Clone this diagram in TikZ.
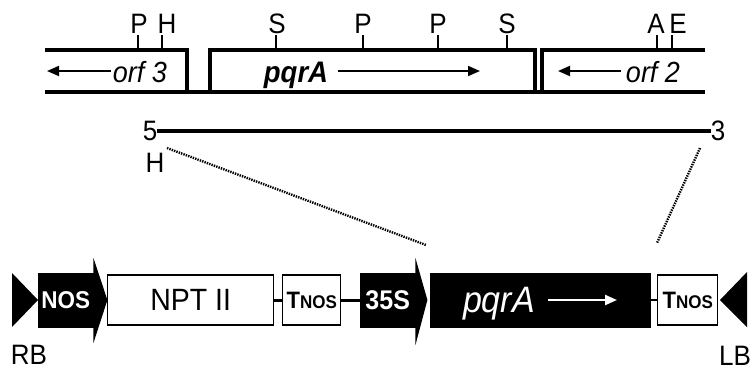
\documentclass[tikz,border=0pt]{standalone}
\usepackage{graphicx}
\usepackage{fontspec}
\setmainfont{Liberation Sans}
\usetikzlibrary{arrows.meta,calc}
\newcommand{\setsz}[1]{\fontsize{#1}{#1}\selectfont}
\newcommand{\tall}[1]{\scalebox{1}[1.08]{#1}}
\newcommand{\tnos}{\tall{\bfseries\setsz{22}T\setsz{17}NOS}}

\begin{document}
\begin{tikzpicture}[x=1pt, y=-1pt, every node/.style={inner sep=0pt},
  map/.style={line width=3.4pt},
  site/.style={line width=1.5pt},
  lbl/.style={font=\setsz{26}},
  orfarr/.style={line width=1.8pt, -{Triangle[length=12pt,width=10pt]}},
  blk/.style={draw, fill=black, text=white, anchor=west, minimum height=54, font=\setsz{22.5}\bfseries},
  wbx/.style={draw, fill=white, line width=1.4pt, anchor=west, minimum height=50},
  link/.style={line width=3pt},
  cut/.style={line width=2.4pt, dash pattern=on 1.4pt off 1.1pt}]
\useasboundingbox (0,0) rectangle (756,373);
% Genomic map
\draw[map] (45,92) -- (705,92);
\draw[map] (45,50) -- (187,50) -- (187,92);
\draw[map] (210,92) -- (210,50) -- (535,50) -- (535,92);
\draw[map] (542,92) -- (542,50) -- (705,50);
% Restriction sites
\foreach \x/\lx/\l [count=\i] in {138/139/P, 162/167/H, 276/277/S, 363/363/P, 438/438/P, 507/507/S, 657/656/A, 672/678/E} {
  \node[lbl] (site\i) at (\lx,24) {\tall{\l}};
  \draw[site] (\x,50) -- (\x,35);
}
% ORFs
\node[font=\setsz{27}\itshape, anchor=base] (orf3) at (140,82) {\tall{orf 3}};
\coordinate (orf3foot) at (111,71);
\coordinate (orf3tip) at (47,71);
\draw[orfarr] (orf3foot) -- (orf3tip);
\node[font=\setsz{27.5}\bfseries\itshape, anchor=base] (pqrtop) at (296,82) {\tall{pqrA}};
\coordinate (pqrfoot) at (338,71);
\coordinate (pqrtip) at (480,71);
\draw[orfarr] (pqrfoot) -- (pqrtip);
\node[font=\setsz{27}\itshape, anchor=base] (orf2) at (653,82) {\tall{orf 2}};
\coordinate (orf2foot) at (621,71);
\coordinate (orf2tip) at (558,71);
\draw[orfarr] (orf2foot) -- (orf2tip);
% Cloned fragment
\node[lbl] (five) at (150,131) {\tall{5}};
\node[lbl] (three) at (718,131) {\tall{3}};
\draw[line width=3.6pt] (five) -- (three);
\node[lbl] (hsite) at (155,163) {\tall{H}};
\coordinate (hcut) at (167,148);
\coordinate (ecut) at (700,148);
% T-DNA construct
\fill (12,273) -- (38,300) -- (12,327) -- cycle;
\node[blk, minimum width=55] (nos) at (38,300) {\tall{NOS}};
\fill ($(nos.north east)+(0,-15)$) -- ($(nos.east)+(14,0)$) -- ($(nos.south east)+(0,16)$) -- cycle;
\node[wbx, minimum width=166] (npt) at (107,300) {\tall{\setsz{28.5}NPT II}};
\node[wbx, minimum width=58] (tnos1) at (282,300) {\tnos};
\node[blk, minimum width=55, font=\setsz{25}\bfseries] (p35s) at (360,300) {\tall{35S}};
\fill ($(p35s.north east)+(0,-15)$) -- ($(p35s.east)+(12,0)$) -- ($(p35s.south east)+(0,18)$) -- cycle;
\node[blk, minimum width=220] (gene) at (430,300) {};
\node[text=white, font=\setsz{34}\itshape, anchor=base] (genetxt) at (499,312) {\tall{pqrA}};
\coordinate (genefoot) at (548,300);
\coordinate (genetip) at (617,300);
\draw[white, line width=2.2pt, -{Triangle[length=12pt,width=10pt]}] (genefoot) -- (genetip);
\node[wbx, minimum width=60] (tnos2) at (657,300) {\tnos};
\fill (720,300) -- (747,272) -- (747,327) -- cycle;
\draw[link] (npt) -- (tnos1);
\draw[link] (tnos1) -- (p35s);
\draw[line width=2.4pt] (gene) -- (tnos2);
\coordinate (gcut) at (426,245);
\coordinate (tcut) at (657,243);
% Borders
\node[lbl] (rb) at (29,355) {\tall{RB}};
\node[lbl] (lb) at (735,356) {\tall{LB}};
% Subcloning
\draw[cut] (hcut) -- (gcut);
\draw[cut] (ecut) -- (tcut);
\end{tikzpicture}
\end{document}
